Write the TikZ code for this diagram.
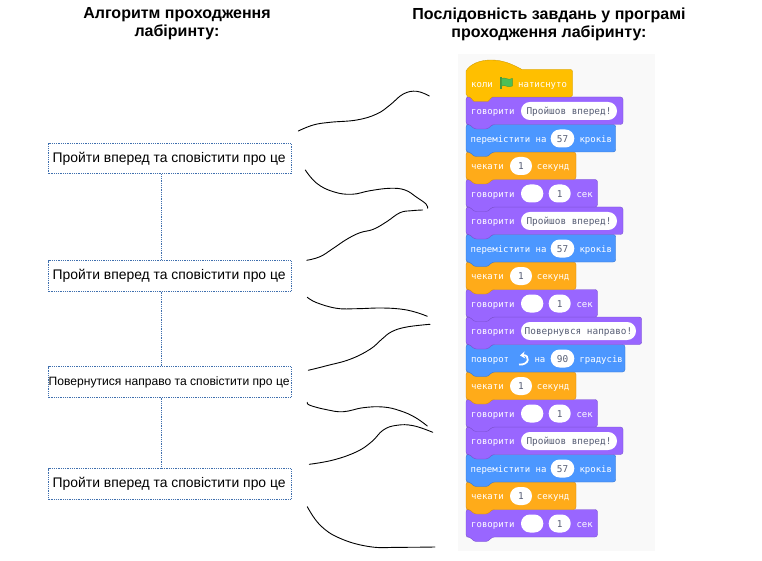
\documentclass[tikz,border=0pt]{standalone}
\usepackage{fontspec}
\setmainfont{Liberation Sans}
\newfontfamily\blockfont{DejaVu Sans Mono}
\usetikzlibrary{arrows.meta}
\definecolor{sPurple}{HTML}{9966FF}
\definecolor{sPurpleD}{HTML}{774DCB}
\definecolor{sBlue}{HTML}{4C97FF}
\definecolor{sBlueD}{HTML}{3373CC}
\definecolor{sOrange}{HTML}{FFAB19}
\definecolor{sOrangeD}{HTML}{CF8B17}
\definecolor{sHat}{HTML}{FFBF00}
\definecolor{sHatD}{HTML}{CC9900}
\definecolor{sGrey}{HTML}{575E75}
\definecolor{sPanel}{HTML}{F9F9F9}
\definecolor{sDash}{HTML}{3F6FAE}
\definecolor{sFlag}{HTML}{4CBF56}
\definecolor{sFlagD}{HTML}{45993D}
\newcount\tagno
\newcommand{\nexttag}{\global\advance\tagno by 1 }
\newcommand{\block}[4]{%
  \fill[#3,draw=#4,line width=.35pt,rounded corners=2.5pt]
    (466,#1) -- (470,#1) -- (474,#1+3.5) -- (488,#1+3.5) -- (492,#1) -- (466+#2,#1)
    -- (466+#2,#1+27.5) -- (492,#1+27.5) -- (488,#1+32) -- (474,#1+32) -- (470,#1+27.5) -- (466,#1+27.5) -- cycle;
}
\newcommand{\steptext}[1]{\hspace*{-1.6pt}\raisebox{-2pt}{#1}}
\tikzset{
  blocktext/.style={text=white,anchor=base west,inner sep=0pt,font=\blockfont\fontsize{9}{9}\selectfont},
  pilltext/.style={text=sGrey,anchor=base,inner sep=0pt,font=\blockfont\fontsize{9.4}{9.4}\selectfont},
  stepbox/.style={draw=sDash,densely dotted,line width=.8pt,minimum width=242.5pt,minimum height=30.5pt,inner sep=0pt,anchor=north west,font=\fontsize{13.9}{14}\selectfont},
  linkline/.style={draw=sDash,densely dotted,line width=.8pt},
  sketch/.style={draw=black,line width=.9pt,line cap=round,smooth,tension=.7},
  heading/.style={align=center,font=\bfseries\fontsize{16}{18}\selectfont,inner sep=0pt}
}
\newcommand{\lbl}[3]{\nexttag\node[blocktext] (t\the\tagno) at (#1,#2+17.8) {#3};}
\newcommand{\pill}[4]{\nexttag\fill[white,rounded corners=8.9pt] (#1,#3+5) rectangle (#2,#3+23);
  \node[pilltext] (p\the\tagno) at ({(#1+#2)/2},#3+17.8) {#4};}
\newcommand{\sayA}[1]{\lbl{471}{#1}{говорити}\pill{521}{617}{#1}{Пройшов вперед!}}
\newcommand{\moveA}[1]{\lbl{470.5}{#1}{перемістити на}\pill{550.7}{574.3}{#1}{57}\lbl{579.3}{#1}{кроків}}
\newcommand{\waitA}[1]{\lbl{471}{#1}{чекати}\pill{510}{532}{#1}{1}\lbl{536.7}{#1}{секунд}}
\newcommand{\sayB}[1]{\lbl{471}{#1}{говорити}\pill{521}{543.3}{#1}{}\pill{548.7}{570.7}{#1}{1}\lbl{576.3}{#1}{сек}}
\begin{document}
\begin{tikzpicture}[x=1pt,y=-1pt]
\useasboundingbox (0,0) rectangle (762,561);
\fill[white] (0,0) rectangle (762,561);
% headings
\node[heading] (h1) at (177,24) {Алгоритм проходження\\лабіринту:};
\node[heading] (h2) at (549,24) {Послідовність завдань у програмі\\проходження лабіринту:};
% left steps
\node[stepbox] (s1) at (48.3,143) {\steptext{Пройти вперед та сповістити про це}};
\node[stepbox] (s2) at (48.3,260.3) {\steptext{Пройти вперед та сповістити про це}};
\node[stepbox,font=\fontsize{12.1}{12.1}\selectfont] (s3) at (48.3,366.3) {\steptext{Повернутися направо та сповістити про це}};
\node[stepbox] (s4) at (48.3,468.3) {\steptext{Пройти вперед та сповістити про це}};
\coordinate (linkx) at (161.5,0);
\draw[linkline] (s1.south -| linkx) -- (s2.north -| linkx);
\draw[linkline] (s2.south -| linkx) -- (s3.north -| linkx);
\draw[linkline] (s3.south -| linkx) -- (s4.north -| linkx);
% hand-drawn curves
\draw[sketch] plot coordinates {(298.3,131)(313.3,125)(330,122.3)(356.7,120)(376.7,114)(390,105)(403.3,94)(416.7,91.3)(429.3,96)};
\draw[sketch] plot coordinates {(305.3,170)(316.7,183.3)(333.3,191.7)(351.7,194.3)(370,190.7)(390,188.3)(405,190)(416.7,197.3)(426,204)(427.7,208.3)};
\draw[sketch] plot coordinates {(306.7,260.3)(320,256.7)(333.3,248.3)(346.7,239.3)(360,232.7)(373.3,229.3)(386.7,221.7)(400,212.7)(411.7,210.7)(422.7,210)};
\draw[sketch] plot coordinates {(307.3,297.3)(316.7,302.7)(336.7,308.3)(356.7,308.7)(380,308)(400,309)(415,312)(427.3,316.3)};
\draw[sketch] plot coordinates {(308.3,370.3)(326.7,365.7)(350,359.3)(370,349.3)(381.7,339.3)(391.7,331.7)(406.7,327)(430,324.3)};
\draw[sketch] plot coordinates {(307.3,402.3)(310,405.3)(326.7,409.7)(343.3,411.7)(363.3,407.7)(383.3,407)(400,410.7)(415,417.3)(427.3,426)};
\draw[sketch] plot coordinates {(309.3,464.3)(333.3,460)(356.7,451.7)(371.7,441.7)(383.3,430)(396.7,425.3)(413.3,425.7)(432.7,432.3)};
\draw[sketch] plot coordinates {(307.3,506.7)(320,525)(340,538.3)(370,546.7)(400,547.3)(435,547)};
% panel
\fill[sPanel] (458,54) rectangle (655,551);
% blocks, bottom up so that each tab lies over the next block
\block{509.5}{131.5}{sPurple}{sPurpleD}
\block{482}{110}{sOrange}{sOrangeD}
\block{454.5}{149.7}{sBlue}{sBlueD}
\block{427}{157}{sPurple}{sPurpleD}
\block{399.5}{131.5}{sPurple}{sPurpleD}
\block{372}{110}{sOrange}{sOrangeD}
\block{344.5}{159}{sBlue}{sBlueD}
\block{317}{175.7}{sPurple}{sPurpleD}
\block{289.5}{131.5}{sPurple}{sPurpleD}
\block{262}{110}{sOrange}{sOrangeD}
\block{234.5}{149.7}{sBlue}{sBlueD}
\block{207}{157}{sPurple}{sPurpleD}
\block{179.5}{131.5}{sPurple}{sPurpleD}
\block{152}{110}{sOrange}{sOrangeD}
\block{124.5}{149.7}{sBlue}{sBlueD}
\block{97}{157}{sPurple}{sPurpleD}
% hat block
\fill[sHat,draw=sHatD,line width=.35pt]
  (466,94) -- (466,71) .. controls (470,64) and (480,60) .. (491,60) .. controls (503,60) and (512,64) .. (522,69.5)
  -- (570.5,69.5) arc[start angle=90,end angle=0,x radius=2,y radius=-2] -- (572.5,95) -- (570.5,97) -- (492,97) -- (488,101.5) -- (474,101.5) -- (470,97) -- (468,97) -- cycle;
% texts
\lbl{471}{69.5}{коли}
\lbl{518}{69.5}{натиснуто}
\fill[sFlagD] (500.3,77) rectangle (501.6,89.5);
\fill[sFlag,draw=sFlagD,line width=.4pt] (501.5,78.5) .. controls (505,76.5) and (508,81) .. (512.3,78.5) -- (512.3,86) .. controls (508,88.5) and (505,84) .. (501.5,86) -- cycle;
\sayA{97}
\moveA{124.5}
\waitA{152}
\sayB{179.5}
\sayA{207}
\moveA{234.5}
\waitA{262}
\sayB{289.5}
\lbl{471}{317}{говорити}\pill{521}{636}{317}{Повернувся направо!}
\lbl{471}{344.5}{поворот}
\draw[white,line width=1.8pt,-{Stealth[length=5pt,width=7pt]}] (519,364.5) .. controls (530,365.5) and (530,354.5) .. (520,355.5);
\lbl{534.3}{344.5}{на}\pill{550.7}{574.3}{344.5}{90}\lbl{579.3}{344.5}{градусів}
\waitA{372}
\sayB{399.5}
\sayA{427}
\moveA{454.5}
\waitA{482}
\sayB{509.5}
\end{tikzpicture}
\end{document}
